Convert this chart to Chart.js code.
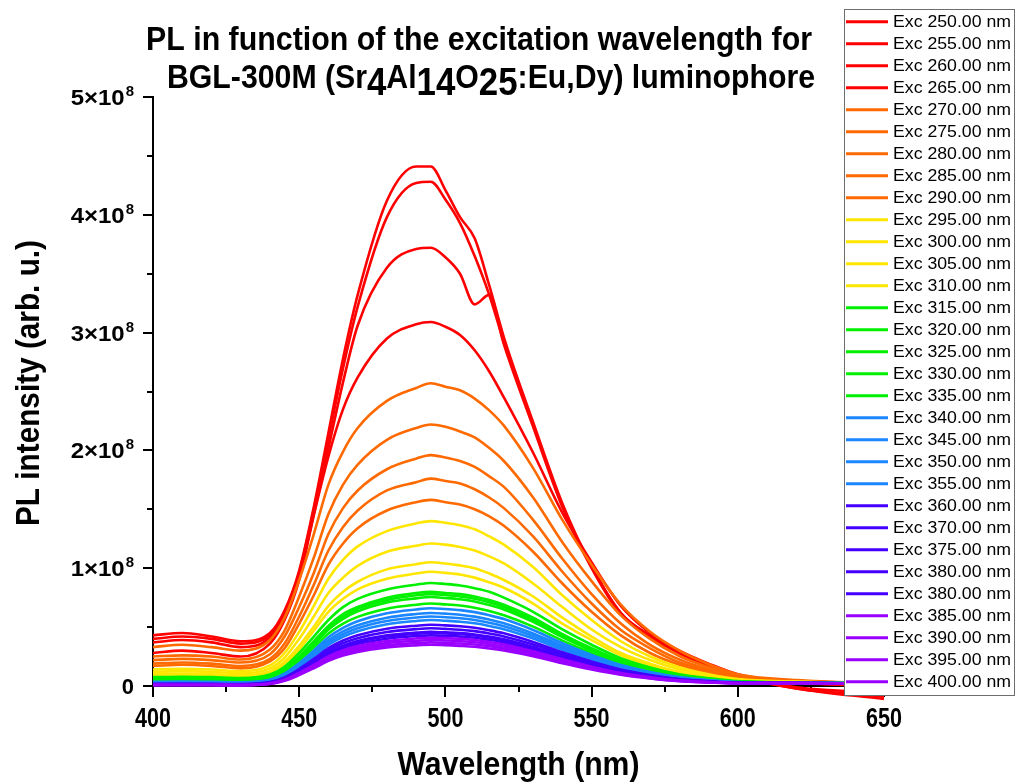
<!DOCTYPE html>
<html>
<head>
<meta charset="utf-8">
<title>PL vs excitation wavelength</title>
<script src="https://cdn.jsdelivr.net/npm/chart.js@4.4.1/dist/chart.umd.min.js"></script>
<style>
	html, body { margin: 0; padding: 0; background: #fff; }
	#plot { display: block; }
</style>
</head>
<body>
<canvas id="plot" width="1017" height="783"></canvas>
<script>
// ---------------------------------------- Data ----------------------------------------

// emission wavelength (nm), shared by every spectrum
const wavelengths = [400, 410, 420, 430, 440, 445, 450, 455, 460, 465, 470, 480, 490, 495, 500, 505, 510, 515, 520, 530, 540, 550, 560, 570, 580, 590, 600, 620, 650];

// excitation wavelengths (nm), one per spectrum, in legend order
const excitationNm = [250, 255, 260, 265, 270, 275, 280, 285, 290, 295, 300, 305, 310, 315, 320, 325, 330, 335, 340, 345, 350, 355, 360, 370, 375, 380, 380, 385, 390, 395, 400];

// PL intensity, in units of 10^8
const pl250 = [0.43, 0.45, 0.42, 0.38, 0.45, 0.64, 0.98, 1.52, 2.15, 2.78, 3.32, 4.12, 4.41, 4.41, 4.21, 3.98, 3.80, 3.40, 2.96, 2.24, 1.55, 1.02, 0.62, 0.43, 0.29, 0.18, 0.09, -0.02, -0.11];
const pl255 = [0.40, 0.42, 0.40, 0.36, 0.43, 0.62, 0.96, 1.50, 2.10, 2.70, 3.22, 3.98, 4.27, 4.28, 4.13, 3.93, 3.65, 3.32, 2.92, 2.22, 1.53, 1.01, 0.62, 0.42, 0.28, 0.17, 0.08, -0.02, -0.09];
const pl260 = [0.37, 0.39, 0.37, 0.33, 0.41, 0.60, 0.94, 1.46, 2.02, 2.58, 3.06, 3.55, 3.71, 3.72, 3.64, 3.50, 3.24, 3.32, 2.90, 2.20, 1.52, 1.00, 0.61, 0.42, 0.28, 0.17, 0.08, -0.01, -0.06];
const pl265 = [0.28, 0.30, 0.28, 0.25, 0.36, 0.56, 0.90, 1.45, 1.95, 2.35, 2.62, 2.95, 3.07, 3.09, 3.05, 2.98, 2.85, 2.67, 2.45, 1.98, 1.47, 1.05, 0.68, 0.45, 0.30, 0.19, 0.10, 0.03, 0.00];
const pl270 = [0.33, 0.35, 0.33, 0.30, 0.39, 0.58, 0.90, 1.29, 1.71, 1.99, 2.19, 2.42, 2.53, 2.57, 2.54, 2.51, 2.44, 2.34, 2.21, 1.85, 1.41, 1.03, 0.69, 0.46, 0.30, 0.185, 0.10, 0.05, 0.02];
const pl275 = [0.25, 0.26, 0.25, 0.225, 0.31, 0.47, 0.76, 1.09, 1.46, 1.71, 1.88, 2.09, 2.19, 2.22, 2.20, 2.16, 2.11, 2.02, 1.91, 1.60, 1.22, 0.89, 0.60, 0.40, 0.255, 0.16, 0.088, 0.047, 0.02];
const pl280 = [0.22, 0.23, 0.22, 0.20, 0.27, 0.42, 0.67, 0.96, 1.29, 1.51, 1.66, 1.84, 1.93, 1.96, 1.94, 1.91, 1.86, 1.78, 1.69, 1.41, 1.08, 0.78, 0.53, 0.35, 0.225, 0.14, 0.08, 0.044, 0.02];
const pl285 = [0.19, 0.20, 0.19, 0.17, 0.23, 0.36, 0.59, 0.86, 1.15, 1.35, 1.49, 1.66, 1.73, 1.76, 1.74, 1.72, 1.67, 1.60, 1.51, 1.27, 0.97, 0.70, 0.475, 0.32, 0.20, 0.128, 0.072, 0.041, 0.02];
const pl290 = [0.17, 0.18, 0.17, 0.15, 0.21, 0.32, 0.53, 0.77, 1.03, 1.21, 1.34, 1.49, 1.56, 1.58, 1.56, 1.54, 1.50, 1.44, 1.36, 1.14, 0.87, 0.63, 0.43, 0.28, 0.18, 0.115, 0.065, 0.039, 0.02];
const pl295 = [0.14, 0.147, 0.14, 0.126, 0.175, 0.28, 0.46, 0.68, 0.91, 1.07, 1.185, 1.315, 1.38, 1.40, 1.386, 1.365, 1.33, 1.27, 1.20, 1.01, 0.77, 0.56, 0.38, 0.25, 0.16, 0.10, 0.059, 0.037, 0.02];
const pl300 = [0.12, 0.126, 0.12, 0.108, 0.15, 0.24, 0.40, 0.59, 0.79, 0.92, 1.02, 1.14, 1.19, 1.21, 1.20, 1.18, 1.15, 1.10, 1.04, 0.87, 0.67, 0.48, 0.33, 0.22, 0.14, 0.09, 0.052, 0.035, 0.02];
const pl305 = [0.10, 0.105, 0.10, 0.09, 0.125, 0.205, 0.34, 0.505, 0.68, 0.80, 0.885, 0.99, 1.034, 1.05, 1.04, 1.024, 1.0, 0.955, 0.90, 0.76, 0.58, 0.42, 0.28, 0.19, 0.12, 0.079, 0.047, 0.033, 0.02];
const pl310 = [0.09, 0.095, 0.09, 0.081, 0.115, 0.19, 0.31, 0.47, 0.63, 0.74, 0.82, 0.91, 0.955, 0.97, 0.96, 0.946, 0.92, 0.88, 0.834, 0.70, 0.53, 0.39, 0.26, 0.175, 0.11, 0.073, 0.044, 0.032, 0.02];
const pl315 = [0.075, 0.079, 0.075, 0.068, 0.097, 0.164, 0.28, 0.42, 0.56, 0.67, 0.74, 0.82, 0.86, 0.875, 0.866, 0.853, 0.83, 0.80, 0.75, 0.63, 0.48, 0.35, 0.236, 0.158, 0.10, 0.066, 0.041, 0.03, 0.02];
const pl320 = [0.065, 0.068, 0.065, 0.059, 0.086, 0.147, 0.25, 0.38, 0.51, 0.61, 0.67, 0.75, 0.79, 0.80, 0.79, 0.78, 0.76, 0.73, 0.69, 0.58, 0.44, 0.32, 0.216, 0.144, 0.092, 0.061, 0.038, 0.03, 0.02];
const pl325 = [0.06, 0.063, 0.06, 0.054, 0.08, 0.14, 0.243, 0.367, 0.50, 0.59, 0.655, 0.73, 0.77, 0.78, 0.772, 0.76, 0.74, 0.71, 0.67, 0.56, 0.43, 0.31, 0.21, 0.14, 0.09, 0.06, 0.037, 0.029, 0.02];
const pl330 = [0.055, 0.058, 0.055, 0.05, 0.075, 0.133, 0.234, 0.353, 0.48, 0.57, 0.634, 0.71, 0.744, 0.755, 0.747, 0.736, 0.717, 0.687, 0.65, 0.544, 0.415, 0.30, 0.204, 0.136, 0.087, 0.058, 0.036, 0.029, 0.02];
const pl335 = [0.05, 0.053, 0.05, 0.045, 0.069, 0.122, 0.215, 0.327, 0.445, 0.53, 0.587, 0.656, 0.69, 0.70, 0.693, 0.683, 0.665, 0.637, 0.60, 0.504, 0.385, 0.28, 0.19, 0.126, 0.08, 0.054, 0.035, 0.028, 0.02];
const pl340 = [0.035, 0.037, 0.035, 0.032, 0.053, 0.105, 0.193, 0.30, 0.414, 0.494, 0.55, 0.618, 0.65, 0.66, 0.653, 0.644, 0.627, 0.60, 0.568, 0.475, 0.363, 0.264, 0.178, 0.119, 0.076, 0.051, 0.033, 0.028, 0.02];
const pl345 = [0.03, 0.032, 0.03, 0.027, 0.048, 0.095, 0.179, 0.28, 0.387, 0.463, 0.516, 0.58, 0.611, 0.62, 0.614, 0.605, 0.589, 0.564, 0.533, 0.446, 0.341, 0.248, 0.167, 0.112, 0.071, 0.048, 0.032, 0.027, 0.02];
const pl350 = [0.028, 0.029, 0.028, 0.025, 0.045, 0.09, 0.17, 0.266, 0.368, 0.44, 0.491, 0.552, 0.581, 0.59, 0.584, 0.575, 0.56, 0.537, 0.507, 0.425, 0.325, 0.236, 0.159, 0.106, 0.068, 0.046, 0.031, 0.027, 0.02];
const pl355 = [0.025, 0.026, 0.025, 0.023, 0.041, 0.085, 0.16, 0.251, 0.349, 0.418, 0.465, 0.524, 0.552, 0.56, 0.554, 0.546, 0.532, 0.51, 0.482, 0.403, 0.308, 0.224, 0.151, 0.101, 0.064, 0.044, 0.03, 0.027, 0.02];
const pl360 = [0.018, 0.019, 0.018, 0.016, 0.033, 0.073, 0.144, 0.23, 0.321, 0.386, 0.431, 0.486, 0.512, 0.52, 0.515, 0.507, 0.494, 0.473, 0.447, 0.374, 0.286, 0.208, 0.14, 0.094, 0.06, 0.041, 0.028, 0.026, 0.02];
const pl370 = [0.016, 0.017, 0.016, 0.014, 0.03, 0.068, 0.136, 0.216, 0.302, 0.364, 0.406, 0.458, 0.483, 0.49, 0.485, 0.478, 0.466, 0.446, 0.421, 0.353, 0.27, 0.196, 0.132, 0.088, 0.056, 0.039, 0.027, 0.026, 0.02];
const pl375 = [0.015, 0.016, 0.015, 0.014, 0.028, 0.065, 0.127, 0.203, 0.284, 0.341, 0.381, 0.43, 0.453, 0.46, 0.455, 0.449, 0.437, 0.419, 0.396, 0.331, 0.253, 0.184, 0.124, 0.083, 0.053, 0.037, 0.026, 0.025, 0.02];
const pl380a = [0.014, 0.015, 0.014, 0.013, 0.027, 0.063, 0.124, 0.198, 0.277, 0.334, 0.373, 0.42, 0.443, 0.45, 0.446, 0.439, 0.428, 0.41, 0.387, 0.324, 0.248, 0.18, 0.122, 0.081, 0.052, 0.036, 0.026, 0.025, 0.02];
const pl380b = [0.013, 0.014, 0.013, 0.012, 0.025, 0.059, 0.118, 0.189, 0.265, 0.319, 0.356, 0.401, 0.424, 0.43, 0.426, 0.419, 0.409, 0.391, 0.37, 0.31, 0.237, 0.172, 0.116, 0.077, 0.049, 0.035, 0.025, 0.025, 0.02];
const pl385 = [0.01, 0.011, 0.01, 0.009, 0.022, 0.054, 0.111, 0.179, 0.251, 0.304, 0.339, 0.382, 0.404, 0.41, 0.406, 0.40, 0.39, 0.373, 0.353, 0.295, 0.226, 0.164, 0.111, 0.074, 0.047, 0.034, 0.024, 0.024, 0.02];
const pl390 = [0.009, 0.009, 0.009, 0.008, 0.021, 0.051, 0.105, 0.17, 0.239, 0.288, 0.322, 0.364, 0.384, 0.39, 0.386, 0.38, 0.371, 0.355, 0.335, 0.281, 0.215, 0.156, 0.105, 0.07, 0.045, 0.032, 0.024, 0.024, 0.02];
const pl395 = [0.008, 0.008, 0.008, 0.007, 0.019, 0.048, 0.099, 0.16, 0.226, 0.273, 0.305, 0.345, 0.364, 0.37, 0.366, 0.361, 0.352, 0.337, 0.318, 0.266, 0.204, 0.148, 0.10, 0.067, 0.043, 0.031, 0.023, 0.024, 0.02];
const pl400 = [0.006, 0.006, 0.006, 0.005, 0.017, 0.044, 0.093, 0.151, 0.213, 0.258, 0.289, 0.327, 0.345, 0.35, 0.347, 0.341, 0.333, 0.319, 0.301, 0.252, 0.193, 0.14, 0.095, 0.063, 0.04, 0.03, 0.022, 0.023, 0.02];

const plSeries = [pl250, pl255, pl260, pl265, pl270, pl275, pl280, pl285, pl290, pl295, pl300, pl305, pl310, pl315, pl320, pl325, pl330, pl335, pl340, pl345, pl350, pl355, pl360, pl370, pl375, pl380a, pl380b, pl385, pl390, pl395, pl400];

// y axis: labelled ticks (×10^8); minor ticks every 0.5
const yMajorTicks = [0, 1, 2, 3, 4, 5];
// x axis: labelled ticks (nm); minor ticks every 25
const xMajorTicks = [400, 450, 500, 550, 600, 650];

// ---------------------------------------- Styles ----------------------------------------

const FONT = "'Liberation Sans', Arial, Helvetica, sans-serif";

function lineColor(i) {
	if (i < 4) return "#ff0000";
	if (i < 9) return "#ff6a00";
	if (i < 13) return "#ffe600";
	if (i < 18) return "#00f000";
	if (i < 22) return "#1a86ff";
	if (i < 27) return "#4400ff";
	return "#9a00ff";
}

// draw text squeezed/stretched to a given width
function fitText(ctx, text, x, y, width, align) {
	const natural = ctx.measureText(text).width;
	const k = width / natural;
	ctx.save();
	ctx.translate(x, y);
	ctx.scale(k, 1);
	ctx.textAlign = align;
	ctx.fillText(text, 0, 0);
	ctx.restore();
}

// ---------------------------------------- Plugins ----------------------------------------

const axesPlugin = {
	id: "originAxes",
	beforeDatasetsDraw(chart) {
		const { ctx, chartArea: a, scales } = chart;
		const x = scales.x;
		const y = scales.y;
		ctx.save();
		ctx.strokeStyle = "#000";
		ctx.lineWidth = 2;
		ctx.beginPath();
		ctx.moveTo(a.left, a.top - 1);
		ctx.lineTo(a.left, a.bottom);
		ctx.lineTo(a.right + 1, a.bottom);
		ctx.stroke();

		ctx.beginPath();
		x.ticks.forEach((t) => {
			const px = Math.round(x.getPixelForValue(t.value));
			const len = t.value % 50 === 0 ? 11 : 6;
			ctx.moveTo(px, a.bottom);
			ctx.lineTo(px, a.bottom + len);
		});
		y.ticks.forEach((t) => {
			const py = Math.round(y.getPixelForValue(t.value));
			const len = Number.isInteger(t.value) ? 10 : 6;
			ctx.moveTo(a.left, py);
			ctx.lineTo(a.left - len, py);
		});
		ctx.stroke();

		ctx.fillStyle = "#000";
		ctx.textBaseline = "alphabetic";

		// x tick labels
		ctx.font = "bold 28px " + FONT;
		xMajorTicks.forEach((v) => {
			fitText(ctx, String(v), x.getPixelForValue(v), 727, 36, "center");
		});

		// y tick labels  n×10^8
		const right = 134;
		yMajorTicks.forEach((v) => {
			const py = y.getPixelForValue(v);
			if (v === 0) {
				ctx.font = "bold 22px " + FONT;
				ctx.textAlign = "right";
				ctx.fillText("0", right, py + 8);
				return;
			}
			ctx.font = "bold 15px " + FONT;
			const supW = ctx.measureText("8").width;
			ctx.textAlign = "right";
			ctx.fillText("8", right, py - 1);
			ctx.font = "bold 22px " + FONT;
			fitText(ctx, v + "×10", right - supW - 1, py + 8, 54, "right");
		});

		// axis titles
		ctx.font = "bold 34px " + FONT;
		fitText(ctx, "Wavelength (nm)", (a.left + a.right) / 2, 775, 242, "center");
		ctx.save();
		ctx.translate(39, 383);
		ctx.rotate(-Math.PI / 2);
		fitText(ctx, "PL intensity (arb. u.)", 0, 0, 286, "center");
		ctx.restore();
		ctx.restore();
	},
};

const titlePlugin = {
	id: "richTitle",
	afterDraw(chart) {
		const ctx = chart.ctx;
		ctx.save();
		ctx.fillStyle = "#000";
		ctx.textBaseline = "alphabetic";
		ctx.font = "bold 33px " + FONT;
		fitText(ctx, "PL in function of the excitation wavelength for", 146, 50, 666, "left");

		const parts = [
			{ t: "BGL-300M (Sr", size: 33, dy: 0 },
			{ t: "4", size: 38, dy: 7 },
			{ t: "Al", size: 33, dy: 0 },
			{ t: "14", size: 38, dy: 7 },
			{ t: "O", size: 33, dy: 0 },
			{ t: "25", size: 38, dy: 7 },
			{ t: ":Eu,Dy) luminophore", size: 33, dy: 0 },
		];
		let total = 0;
		parts.forEach((p) => {
			ctx.font = "bold " + p.size + "px " + FONT;
			p.w = ctx.measureText(p.t).width;
			total += p.w;
		});
		const k = 648 / total;
		ctx.translate(167, 88);
		ctx.scale(k, 1);
		let cx = 0;
		ctx.textAlign = "left";
		parts.forEach((p) => {
			ctx.font = "bold " + p.size + "px " + FONT;
			ctx.fillText(p.t, cx, p.dy);
			cx += p.w;
		});
		ctx.restore();
	},
};

const legendPlugin = {
	id: "boxLegend",
	afterDraw(chart) {
		const ctx = chart.ctx;
		const box = { left: 844, top: 9, right: 1014, bottom: 695 };
		ctx.save();
		ctx.fillStyle = "#fff";
		ctx.fillRect(box.left, box.top, box.right - box.left, box.bottom - box.top);
		ctx.strokeStyle = "#6e6e6e";
		ctx.lineWidth = 1;
		ctx.strokeRect(box.left + 0.5, box.top + 0.5, box.right - box.left, box.bottom - box.top);

		ctx.font = "16px " + FONT;
		ctx.textBaseline = "middle";
		chart.data.datasets.forEach((ds, i) => {
			const yy = 21.7 + i * 22.0;
			ctx.strokeStyle = ds.borderColor;
			ctx.lineWidth = 3;
			ctx.beginPath();
			ctx.moveTo(846, yy);
			ctx.lineTo(888, yy);
			ctx.stroke();
			ctx.fillStyle = "#000";
			fitText(ctx, ds.label, 893, yy + 1, 118, "left");
		});
		ctx.restore();
	},
};

// ---------------------------------------- PL Graph ----------------------------------------

const datasets = plSeries.map((values, i) => ({
	label: "Exc " + excitationNm[i].toFixed(2) + " nm",
	data: values.map((v, j) => ({ x: wavelengths[j], y: v })),
	borderColor: lineColor(i),
	backgroundColor: lineColor(i),
	borderWidth: 2.6,
	pointRadius: 0,
	fill: false,
	cubicInterpolationMode: "monotone",
	clip: false,
	order: plSeries.length - i,
}));

const graphPL = new Chart(document.getElementById("plot"), {
	type: "line",
	data: { datasets: datasets },
	options: {
		responsive: false,
		animation: false,
		devicePixelRatio: 1,
		layout: { padding: { top: 97, right: 133, left: 0, bottom: 0 } },
		plugins: {
			legend: { display: false },
			title: { display: false },
			tooltip: { enabled: false },
		},
		scales: {
			x: {
				type: "linear",
				min: 400,
				max: 650,
				grid: { display: false, drawTicks: false },
				border: { display: false },
				ticks: { display: false, stepSize: 25 },
				afterFit: (scale) => {
					scale.height = 97;
				},
			},
			y: {
				type: "linear",
				min: 0,
				max: 5,
				grid: { display: false, drawTicks: false },
				border: { display: false },
				ticks: { display: false, stepSize: 0.5 },
				afterFit: (scale) => {
					scale.width = 153;
				},
			},
		},
	},
	plugins: [axesPlugin, titlePlugin, legendPlugin],
});
</script>
</body>
</html>
